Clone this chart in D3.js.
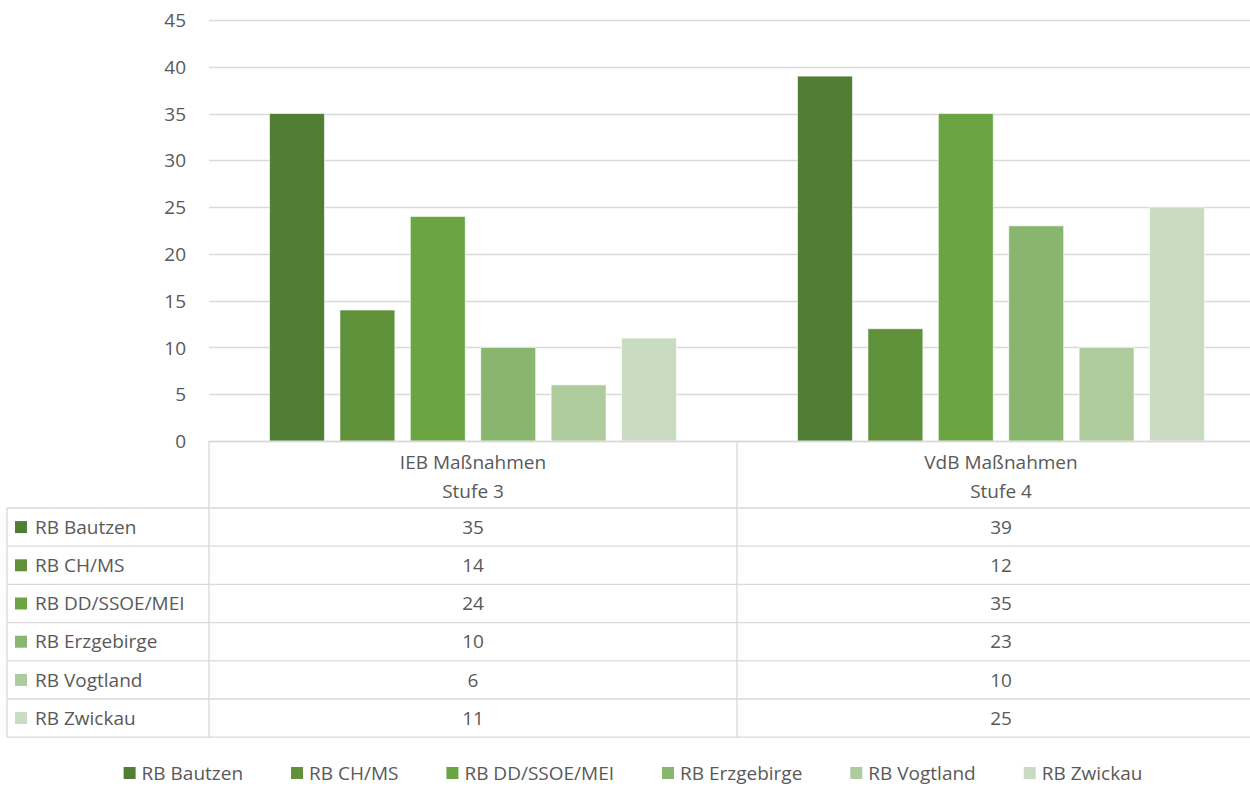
<!DOCTYPE html>
<html><head><meta charset="utf-8">
<script src="https://cdn.jsdelivr.net/npm/d3@7"></script>
<style>body{margin:0;background:#fff}svg{display:block}text{font-family:"Open Sans",sans-serif;fill:#595959}</style>
</head><body><svg id="c" width="1250" height="786"></svg>
<script>
const categories = [["IEB Maßnahmen","Stufe 3"],["VdB Maßnahmen","Stufe 4"]];
const seriesNames = ["RB Bautzen","RB CH/MS","RB DD/SSOE/MEI","RB Erzgebirge","RB Vogtland","RB Zwickau"];
const seriesValues = [[35,39],[14,12],[24,35],[10,23],[6,10],[11,25]];
const colors = ["#507E32","#5F913A","#6BA443","#89B66E","#ADCB9C","#C9DBC0"];
const yTicks = [0,5,10,15,20,25,30,35,40,45];

const svg = d3.select("#c");
const pLeft = 209, pRight = 1265, clipRight = 1250, pTop = 20, pBottom = 441;
const fs = 19;
const grid = "#d9d9d9";

const y = d3.scaleLinear().domain([0,45]).range([pBottom, pTop]);
const x0 = d3.scaleBand().domain(d3.range(categories.length)).range([pLeft, pRight]);
const x1 = d3.scaleBand().domain(d3.range(seriesNames.length)).range([0, x0.bandwidth()]).paddingInner(0.22).paddingOuter(0.86);

// gridlines
svg.append("g").selectAll("line").data(yTicks).join("line")
  .attr("x1", pLeft).attr("x2", clipRight)
  .attr("y1", d => Math.round(y(d))+0.5).attr("y2", d => Math.round(y(d))+0.5)
  .attr("stroke", grid).attr("stroke-width", 1.3);

// y axis labels
const yAxis = d3.axisLeft(y).tickValues(yTicks).tickSize(0).tickPadding(0);
const ya = svg.append("g").attr("transform", `translate(186,0)`).call(yAxis);
ya.select(".domain").remove();
ya.selectAll("text").style("font-size", fs+"px").style("font-family","Open Sans").attr("fill","#595959").attr("dy","0.35em");

// bars
categories.forEach((c, ci) => {
  svg.append("g").selectAll("rect").data(seriesValues).join("rect")
    .attr("x", (d,i) => x0(ci) + x1(i))
    .attr("width", x1.bandwidth())
    .attr("y", d => y(d[ci]))
    .attr("height", d => y(0) - y(d[ci]))
    .attr("fill", (d,i) => colors[i])
    .attr("stroke", "rgba(255,255,255,0.6)").attr("stroke-width", 1);
});

// data table
const tableLeft = 7, headerBottom = 508, rowH = 38.2;
const rows = seriesNames.length;
const tableBottom = headerBottom + rows*rowH;
const tg = svg.append("g");
for (let r = 0; r <= rows; r++) {
  const yy = headerBottom + r*rowH;
  tg.append("line").attr("x1", tableLeft).attr("x2", clipRight).attr("y1", yy).attr("y2", yy).attr("stroke", grid).attr("stroke-width", 1.3);
}
tg.append("line").attr("x1", tableLeft).attr("x2", tableLeft).attr("y1", headerBottom).attr("y2", tableBottom).attr("stroke", grid).attr("stroke-width", 1.3);
[pLeft, x0(1)].forEach(xx => tg.append("line").attr("x1", xx).attr("x2", xx).attr("y1", pBottom).attr("y2", tableBottom).attr("stroke", grid).attr("stroke-width", 1.3));
tg.append("line").attr("x1", pLeft).attr("x2", clipRight).attr("y1", pBottom+0.5).attr("y2", pBottom+0.5).attr("stroke", grid).attr("stroke-width", 1.3);

categories.forEach((c, ci) => {
  const cx = x0(ci) + x0.bandwidth()/2;
  c.forEach((line, li) => {
    tg.append("text").attr("x", cx).attr("y", 462 + li*29).attr("text-anchor","middle").attr("dy","0.35em").style("font-size", fs+"px").text(line);
  });
});
seriesNames.forEach((n, i) => {
  const cy = headerBottom + i*rowH + rowH/2;
  tg.append("rect").attr("x", 15).attr("y", cy-6).attr("width", 12).attr("height", 12).attr("fill", colors[i]);
  tg.append("text").attr("x", 35).attr("y", cy).attr("dy","0.35em").style("font-size", fs+"px").text(n);
  categories.forEach((c, ci) => {
    tg.append("text").attr("x", x0(ci)+x0.bandwidth()/2).attr("y", cy).attr("dy","0.35em").attr("text-anchor","middle").style("font-size", fs+"px").text(seriesValues[i][ci]);
  });
});

// legend
const lg = svg.append("g");
const ly = 773;
const items = seriesNames.map((n,i) => {
  const t = lg.append("text").attr("y", ly).attr("dy","0.35em").style("font-size", fs+"px").text(n);
  return {t, w: t.node().getComputedTextLength(), i};
});
const gap = 48, sq = 12, sqGap = 6;
const total = d3.sum(items, d => sq + sqGap + d.w) + gap*(items.length-1);
let lx = 633 - total/2;
items.forEach(d => {
  lg.append("rect").attr("x", lx).attr("y", ly-6).attr("width", sq).attr("height", sq).attr("fill", colors[d.i]);
  d.t.attr("x", lx + sq + sqGap);
  lx += sq + sqGap + d.w + gap;
});
</script></body></html>
